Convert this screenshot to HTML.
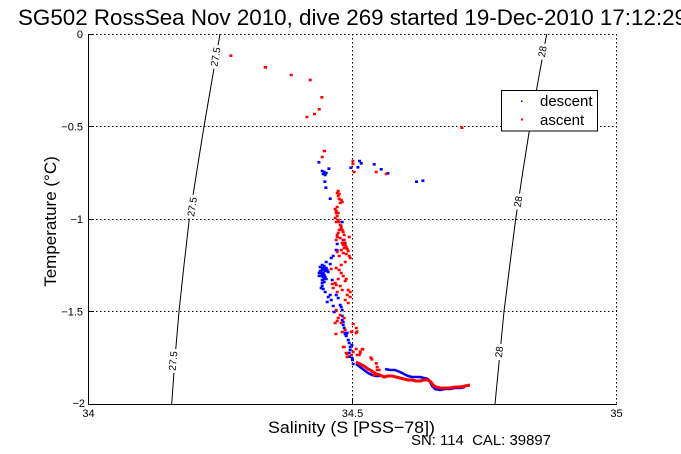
<!DOCTYPE html>
<html><head><meta charset="utf-8"><style>
html,body{margin:0;padding:0;background:#fff;}
svg{display:block;}
text{font-family:"Liberation Sans",Arial,sans-serif;fill:#000;}
</style></head><body>
<svg width="681" height="454" viewBox="0 0 681 454" xmlns="http://www.w3.org/2000/svg">
<rect width="681" height="454" fill="#fff"/>
<!-- title -->
<text x="18" y="25" font-size="22" textLength="669" lengthAdjust="spacingAndGlyphs">SG502 RossSea Nov 2010, dive 269 started 19-Dec-2010 17:12:29</text>

<!-- contour lines -->
<polyline fill="none" stroke="#000" stroke-width="1" points="220,34 212,80 204,126.5 196.5,173 189.3,219 184,265 179,311.5 175,358 171.7,404"/>
<polyline fill="none" stroke="#000" stroke-width="1" points="546.7,34 538.3,80 530,126.5 522.6,173 515.7,219 509.8,265 504,311.5 499.5,358 495,404"/>
<g fill="#fff">
<rect x="-12" y="-2.5" width="24" height="5" transform="translate(216.5,57) rotate(-80)"/>
<rect x="-12" y="-2.5" width="24" height="5" transform="translate(193,207) rotate(-81)"/>
<rect x="-12" y="-2.5" width="24" height="5" transform="translate(174,361) rotate(-84)"/>
<rect x="-8" y="-2.5" width="16" height="5" transform="translate(543.3,51.7) rotate(-80)"/>
<rect x="-8" y="-2.5" width="16" height="5" transform="translate(519,201.7) rotate(-81)"/>
<rect x="-8" y="-2.5" width="16" height="5" transform="translate(500,352) rotate(-84)"/>
</g>

<!-- grid -->
<g stroke="#000" stroke-width="1" stroke-dasharray="1.5,2.5" fill="none">
<line x1="88" y1="34.5" x2="617" y2="34.5"/>
<line x1="616.5" y1="34" x2="616.5" y2="404"/>
<line x1="352.5" y1="34" x2="352.5" y2="404"/>
<line x1="88" y1="126.5" x2="617" y2="126.5"/>
<line x1="88" y1="219.5" x2="617" y2="219.5"/>
<line x1="88" y1="311.5" x2="617" y2="311.5"/>
</g>

<!-- contour labels -->
<g font-size="10" text-anchor="middle" dominant-baseline="central">
<text transform="translate(216.5,57) rotate(-80)">27.5</text>
<text transform="translate(193,207) rotate(-81)">27.5</text>
<text transform="translate(174,361) rotate(-84)">27.5</text>
<text transform="translate(543.3,51.7) rotate(-80)">28</text>
<text transform="translate(519,201.7) rotate(-81)">28</text>
<text transform="translate(500,352) rotate(-84)">28</text>
</g>

<!-- descent (blue) -->
<g stroke="#0000ff" fill="none">
<polyline stroke-width="2.5" stroke-linejoin="round" points="356,364 360,367 364,370 368,373 372,375 376,376 380,376"/>
<polyline stroke-width="2.5" stroke-linejoin="round" points="385,369 390,370 395,370 400,372 404,374 408,376 412,377 416,377 420,377 424,378 428,379 430,382 432,386 435,389 440,390 445,389 450,389 455,388 460,388 465,387"/>
<path stroke-width="2.6" stroke-linecap="square" d="M340 305h.4M342 310h.4M342 316h.4M342 320h.4M343 325h.4M344 328h.4M345 333h.4M346 336h.4M348 340h.4M351.7 345h.4M350 347h.4M350 350h.4M349 353h.4M349.3 356.7h.4M352 358h.4M352.3 360h.4M353 364h.4M341 307h.4M343 322h.4M349 343h.4"/>
<path stroke-width="2.6" stroke-linecap="square" d="M318.7 162.3h.4M328.7 168.7h.4M322 171h.4M324 172h.4M326 173h.4M323 174h.4M325 175h.4M324.7 181.7h.4M325.7 187.7h.4M330 198.7h.4M350.7 167.7h.4M359.3 161h.4M361 163.3h.4M357.7 167.3h.4M374 164.3h.4M381 169.3h.4M387.7 173.3h.4M416.3 181.7h.4M422.7 180.7h.4M342 222h.4M343 240h.4M337 244h.4M336 250h.4M337 250.5h.4M333 256h.4M331 258h.4M326 262h.4M330 264h.4M324 266h.4M322 268h.4M321 272h.4M323 273h.4M325 271h.4M327 270h.4M324 275h.4M322 270h.4M320 271h.4M323 268h.4M326 268h.4M321 276h.4M325 277h.4M319 273h.4M322 274h.4M322 265h.4M320 267h.4M325 269h.4M328 272h.4M319 276h.4M323 277h.4M326 279h.4M322 280h.4M332 280h.4M324 279h.4M322 283h.4M321 288h.4M324 282h.4M322 286h.4M323 289h.4M325 292h.4M330 295h.4M336 295h.4M328 297h.4M338 298h.4M331 300h.4M327 302h.4M333 306h.4M334 312h.4M345 334h.4M347 333h.4M346 335h.4"/>
</g>

<!-- ascent (red) -->
<g stroke="#ff0000" fill="none">
<polyline stroke-width="3" stroke-linejoin="round" points="356,362 360,364 364,366 368,369 372,371 376,374 380,375 384,377 388,376 392,376 396,377 400,378 404,379 408,380 412,380 416,381 420,381 424,380 428,380 431,382 433,385 436,387 440,388 445,388 450,388 455,387 460,387 465,386 470,385"/>
<path stroke-width="2.6" stroke-linecap="square" d="M230.7 55.7h.4M265 67.3h.8M291 75h.4M310 80h.4M321.7 97.3h.4M319 109.3h.4M314.3 114h.4M306.7 117h.4M461.7 127.7h.4M324 151h.8M322 157h.4M352.7 161h.4M352.7 164h.4M354 172h.4M376 172h.4M386 174h.4M338 191h.4M338 196h.4M339 199h.4M341 200h.4M342 202h.4M336 211h.4M336 213h.4M337 216h.4M335 218h.4M338 220h.4M340 225h.4M341 228h.4M339 230h.4M342 230h.4M338 233h.4M337 235h.4M337 237h.4M336 240h.4M344 235h.4M349 237h.4M344 240h.4M345 243h.4M343 245h.4M346 247h.4M344 248h.4M348 251h.4M346 254h.4M349 256h.4M339 256h.4M337 252h.4M331 269h.4M339 270h.4M341 273h.4M346 279h.4M345 281h.4M335 283h.4M340 286h.4M332 284h.4M336 285h.4M348 290h.4M350 292h.4M347 295h.4M350 297h.4M336 310h.4M337 321h.4M335 323h.4M335.7 334h.4M341 323h.4M345 330h.4M351.7 331.7h.4M356 328h.4M356.7 331.7h.4M353 324h.4M343 347h.4M346.7 354h.4M357 355h.4M360 351.7h.4M362.7 349.3h.4M370.7 357.7h.4M371.7 359.3h.4M376 363.3h.4M377 367h.4M379 370h.4M342 332h.4M351 332h.4M356 333h.4M344 347h.4M346 353h.4M347 357h.4M351 355h.4M353 352h.4M356 349h.4M362 349h.4M360 353h.4M359 355h.4M372 372h.4M377 370h.4M374 375h.4M337 193h.4M339 194h.4M340 203h.4M337 207h.4M335 209h.4M338 213h.4M336 222h.4M339 222h.4M341 226h.4M343 232h.4M340 238h.4M342 243h.4M345 245h.4M341 250h.4M347 249h.4M343 253h.4M350 258h.4M345 262h.4M341 265h.4M336 268h.4M343 276h.4M338 279h.4M333 288h.4M342 290h.4M337 292h.4M345 300h.4M348 303h.4M340 315h.4M338 318h.4M344 318h.4"/>
</g>

<!-- axes -->
<g stroke="#000" stroke-width="1" fill="none">
<line x1="88.5" y1="34" x2="88.5" y2="405"/>
<line x1="88" y1="404.5" x2="617" y2="404.5"/>
<line x1="89" y1="34.5" x2="94" y2="34.5"/>
<line x1="89" y1="126.5" x2="94" y2="126.5"/>
<line x1="89" y1="219.5" x2="94" y2="219.5"/>
<line x1="89" y1="311.5" x2="94" y2="311.5"/>
<line x1="352.5" y1="404" x2="352.5" y2="399"/>
</g>

<!-- tick labels -->
<g font-size="11">
<text x="88.5" y="417" text-anchor="middle">34</text>
<text x="352.5" y="417" text-anchor="middle">34.5</text>
<text x="616.5" y="417" text-anchor="middle">35</text>
<text x="83" y="38" text-anchor="end">0</text>
<text x="83" y="130.5" text-anchor="end">−0.5</text>
<text x="83" y="223" text-anchor="end">−1</text>
<text x="83" y="315.5" text-anchor="end">−1.5</text>
<text x="85" y="407" text-anchor="end">−2</text>
</g>

<!-- axis labels -->
<text x="268" y="433" font-size="17" textLength="167" lengthAdjust="spacingAndGlyphs">Salinity (S [PSS−78])</text>
<text transform="translate(56,221.5) rotate(-90)" font-size="17" text-anchor="middle">Temperature (°C)</text>
<text x="411" y="445" font-size="14.5" textLength="140" lengthAdjust="spacingAndGlyphs">SN: 114 &#160;CAL: 39897</text>

<!-- legend -->
<rect x="501.5" y="90.5" width="96" height="40.5" fill="#fff" stroke="#000" stroke-width="1"/>
<rect x="521" y="100.5" width="1.5" height="1.5" fill="#0000ff"/>
<rect x="521" y="118.5" width="2" height="2" fill="#ff0000"/>
<text x="540" y="106" font-size="15">descent</text>
<text x="540" y="125" font-size="15">ascent</text>
</svg>
</body></html>
